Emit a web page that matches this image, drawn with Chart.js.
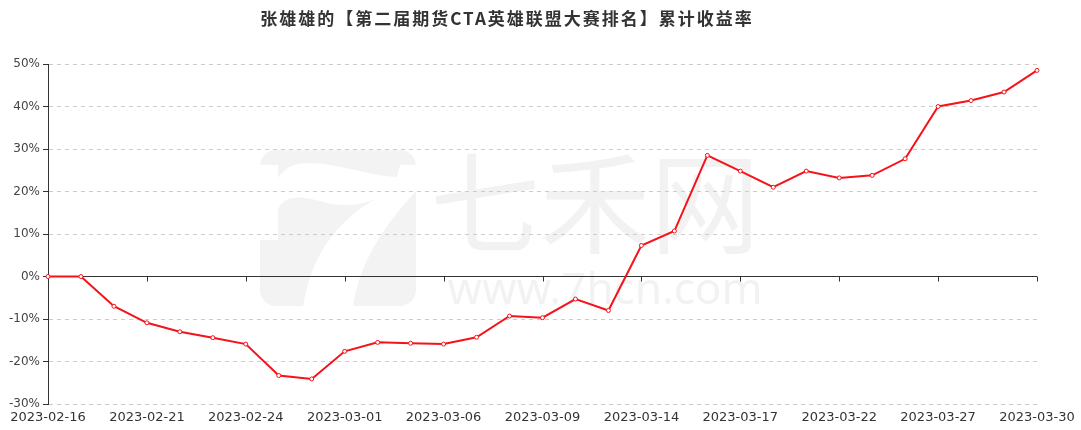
<!DOCTYPE html>
<html>
<head>
<meta charset="utf-8">
<script src="https://cdn.jsdelivr.net/npm/chart.js@4.4.0/dist/chart.umd.min.js"></script>
<style>
  html, body { margin: 0; padding: 0; background: #fff; }
  #wrap { position: relative; width: 1081px; height: 430px; }
  #title {
    position: absolute; top: 5px; left: 0; width: 1014px;
    text-align: center; font: bold 17px "Noto Sans CJK SC", sans-serif;
    letter-spacing: 2px; color: #333;
  }
</style>
</head>
<body>
<div id="wrap">
  <canvas id="chartReturn" width="1081" height="430"></canvas>
  <div id="title">张雄雄的【第二届期货CTA英雄联盟大赛排名】累计收益率</div>
</div>
<script>
// trading days shown on the x axis
const dates = [
  '2023-02-16', '2023-02-17', '2023-02-20', '2023-02-21', '2023-02-22', '2023-02-23',
  '2023-02-24', '2023-02-27', '2023-02-28', '2023-03-01', '2023-03-02', '2023-03-03',
  '2023-03-06', '2023-03-07', '2023-03-08', '2023-03-09', '2023-03-10', '2023-03-13',
  '2023-03-14', '2023-03-15', '2023-03-16', '2023-03-17', '2023-03-20', '2023-03-21',
  '2023-03-22', '2023-03-23', '2023-03-24', '2023-03-27', '2023-03-28', '2023-03-29',
  '2023-03-30'
];
// cumulative return, %
const returns = [
  0, 0, -7.0, -10.9, -13.0, -14.4, -15.9, -23.3, -24.1, -17.6, -15.5, -15.7,
  -15.9, -14.3, -9.3, -9.7, -5.3, -8.0, 7.3, 10.7, 28.5, 24.8, 21.0, 24.8,
  23.2, 23.8, 27.7, 40.0, 41.4, 43.4, 48.5
];
const yMin = -30;
const yMax = 50;
const yStep = 10;
const labelEvery = 3;

// faint 七禾网 logo behind the plot
const watermark = {
  id: 'watermark',
  beforeDraw(chart) {
    const ctx = chart.ctx;
    ctx.save();
    ctx.translate(260, 150);
    ctx.fillStyle = '#f3f3f3';
    ctx.beginPath();
    ctx.roundRect(0, 0, 156, 156, 16);
    ctx.fill();
    ctx.fillStyle = '#fff';
    ctx.beginPath();
    ctx.moveTo(0, 15);
    ctx.lineTo(18, 15);
    ctx.lineTo(18, 28);
    ctx.quadraticCurveTo(28, 12, 50, 13);
    ctx.bezierCurveTo(80, 14, 110, 26, 137, 27);
    ctx.lineTo(140, 15);
    ctx.lineTo(157, 15);
    ctx.lineTo(157, 40);
    ctx.quadraticCurveTo(100, 100, 93, 157);
    ctx.lineTo(43, 157);
    ctx.quadraticCurveTo(55, 75, 133, 40);
    ctx.bezierCurveTo(115, 52, 90, 60, 63, 52);
    ctx.quadraticCurveTo(25, 40, 18, 60);
    ctx.lineTo(18, 90);
    ctx.lineTo(0, 90);
    ctx.closePath();
    ctx.fill();
    ctx.restore();

    ctx.save();
    ctx.fillStyle = '#f2f2f2';
    ctx.textAlign = 'center';
    ctx.textBaseline = 'middle';
    ctx.font = '400 110px "Noto Sans CJK SC"';
    ctx.fillText('七禾网', 595, 203);
    ctx.textBaseline = 'alphabetic';
    ctx.font = '400 44px "Noto Sans"';
    ctx.fillText('www.7hcn.com', 605, 304);
    ctx.restore();
  }
};

// small ticks hanging under the zero line
const zeroTicks = {
  id: 'zeroTicks',
  beforeDatasetsDraw(chart) {
    const { ctx, scales: { x, y } } = chart;
    const y0 = y.getPixelForValue(0);
    ctx.save();
    ctx.strokeStyle = '#333';
    ctx.lineWidth = 1;
    ctx.beginPath();
    for (let i = 0; i < dates.length; i += labelEvery) {
      const px = Math.round(x.getPixelForValue(i)) + 0.5;
      ctx.moveTo(px, y0);
      ctx.lineTo(px, y0 + 5);
    }
    ctx.stroke();
    ctx.restore();
  }
};

new Chart(document.getElementById('chartReturn').getContext('2d'), {
  type: 'line',
  data: {
    labels: dates,
    datasets: [{
      label: '累计收益率',
      data: returns,
      borderColor: '#f5121a',
      borderWidth: 2,
      pointRadius: 2,
      pointBorderWidth: 1,
      pointBackgroundColor: '#fff',
      pointBorderColor: '#f5121a',
      tension: 0,
      clip: false
    }]
  },
  options: {
    responsive: false,
    animation: false,
    layout: { padding: { top: 64, right: 44, bottom: 0, left: 0 } },
    plugins: {
      legend: { display: false },
      title: { display: false },
      tooltip: { enabled: false }
    },
    scales: {
      x: {
        offset: false,
        grid: { display: false, drawTicks: false },
        border: { display: false },
        ticks: {
          autoSkip: false,
          maxRotation: 0,
          padding: 6,
          color: '#333',
          font: { family: 'DejaVu Sans', size: 13 },
          callback: (v, i) => (i % labelEvery === 0 ? dates[i] : '')
        },
        afterFit: (scale) => { scale.height = 26; }
      },
      y: {
        min: yMin,
        max: yMax,
        grid: {
          color: (c) => (c.tick && c.tick.value === 0 ? '#333' : '#ccc'),
          tickColor: '#333',
          tickLength: 5,
          tickBorderDash: []
        },
        border: {
          display: true,
          color: '#333',
          width: 1,
          dash: (c) => (c.tick && c.tick.value !== 0 ? [4, 4] : [])
        },
        ticks: {
          stepSize: yStep,
          padding: 3,
          color: '#444',
          font: { family: 'DejaVu Sans', size: 12 },
          callback: (v) => v + '%'
        },
        afterFit: (scale) => { scale.width = 48; }
      }
    }
  },
  plugins: [watermark, zeroTicks]
});
</script>
</body>
</html>
